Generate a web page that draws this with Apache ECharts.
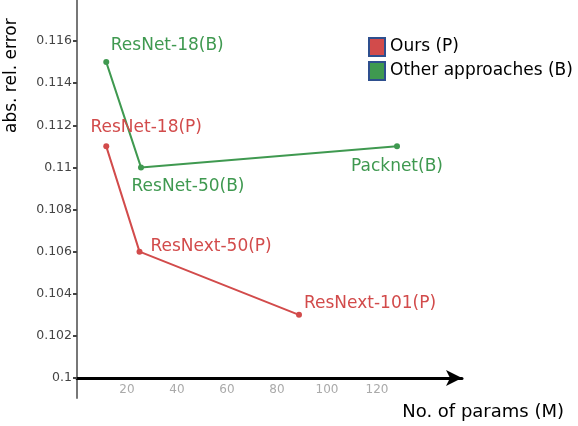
<!DOCTYPE html>
<html>
<head>
<meta charset="utf-8">
<script src="https://cdn.jsdelivr.net/npm/echarts@6/dist/echarts.min.js"></script>
<style>
html,body{margin:0;padding:0;background:#fff;}
#main{width:578px;height:426px;}
</style>
</head>
<body>
<div id="main"></div>
<script>
// data
var oursNames = ['ResNet-18(P)', 'ResNext-50(P)', 'ResNext-101(P)'];
var oursParams = [11.7, 25, 88.8];
var oursError = [0.111, 0.106, 0.103];

var otherNames = ['ResNet-18(B)', 'ResNet-50(B)', 'Packnet(B)'];
var otherParams = [11.7, 25.6, 128];
var otherError = [0.115, 0.110, 0.111];

var yTicks = [0.1, 0.102, 0.104, 0.106, 0.108, 0.11, 0.112, 0.114, 0.116];
var xTicks = [20, 40, 60, 80, 100, 120];

var RED = '#d24b4b';
var GREEN = '#3f9950';
var FONT = 'DejaVu Sans';

function buildData(names, xs, ys, positions) {
    var out = [];
    for (var i = 0; i < names.length; i++) {
        out.push({
            name: names[i],
            value: [xs[i], ys[i]],
            label: positions[i]
        });
    }
    return out;
}

var dom = document.getElementById('main');
var myChart = echarts.init(dom);

var labelFont = {fontFamily: FONT, fontSize: 17, show: true, formatter: '{b}'};

var option = {
    animation: false,
    grid: {left: 77, right: 116, top: 0, bottom: 28},
    legend: {
        left: 368,
        top: 37,
        padding: 0,
        orient: 'vertical',
        icon: 'rect',
        itemWidth: 16,
        itemHeight: 18,
        itemGap: 4,
        itemStyle: {borderColor: '#2e4f8e', borderWidth: 2},
        textStyle: {fontFamily: FONT, fontSize: 17, lineHeight: 18, color: '#000'},
        data: ['Ours (P)', 'Other approaches (B)']
    },
    xAxis: {
        type: 'value',
        min: 0,
        max: 154,
        offset: -20,
        splitLine: {show: false},
        axisLine: {
            show: true,
            symbol: ['none', 'arrow'],
            symbolSize: [12, 16],
            lineStyle: {color: '#000', width: 3}
        },
        axisTick: {show: false},
        axisLabel: {
            customValues: xTicks,
            fontFamily: FONT,
            color: '#aaa',
            fontSize: 12,
            margin: 6
        }
    },
    yAxis: {
        type: 'value',
        min: 0.09905,
        max: 0.11795,
        splitLine: {show: false},
        axisLine: {show: true, lineStyle: {color: '#777', width: 2}},
        axisTick: {
            show: true,
            customValues: yTicks,
            length: 4,
            lineStyle: {color: '#444', width: 2}
        },
        axisLabel: {
            customValues: yTicks,
            fontFamily: FONT,
            color: '#444',
            fontSize: 12.5,
            margin: 5,
            formatter: function (v) { return String(+v.toFixed(3)); }
        }
    },
    graphic: [
        {
            type: 'text',
            x: 3,
            y: 133,
            rotation: Math.PI / 2,
            style: {text: 'abs. rel. error', fontFamily: FONT, fontSize: 17, fill: '#000'}
        },
        {
            type: 'text',
            right: 14,
            top: 403,
            style: {text: 'No. of params (M)', fontFamily: FONT, fontSize: 18, fill: '#000'}
        }
    ],
    series: [
        {
            name: 'Ours (P)',
            type: 'line',
            symbol: 'circle',
            symbolSize: 6,
            itemStyle: {color: RED},
            lineStyle: {color: RED, width: 2},
            label: Object.assign({color: RED}, labelFont),
            data: buildData(oursNames, oursParams, oursError, [
                {position: 'top', distance: 4, offset: [40, -3]},
                {position: 'right', distance: 8, offset: [0, -5]},
                {position: 'right', distance: 2, offset: [0, -11]}
            ])
        },
        {
            name: 'Other approaches (B)',
            type: 'line',
            symbol: 'circle',
            symbolSize: 6,
            itemStyle: {color: GREEN},
            lineStyle: {color: GREEN, width: 2},
            label: Object.assign({color: GREEN}, labelFont),
            data: buildData(otherNames, otherParams, otherError, [
                {position: 'top', distance: 4, offset: [61, -1]},
                {position: 'bottom', distance: 8, offset: [47, 0]},
                {position: 'bottom', distance: 9, offset: [0, 0]}
            ])
        }
    ]
};

if (option && typeof option === 'object') {
    myChart.setOption(option, true);
}
</script>
</body>
</html>
